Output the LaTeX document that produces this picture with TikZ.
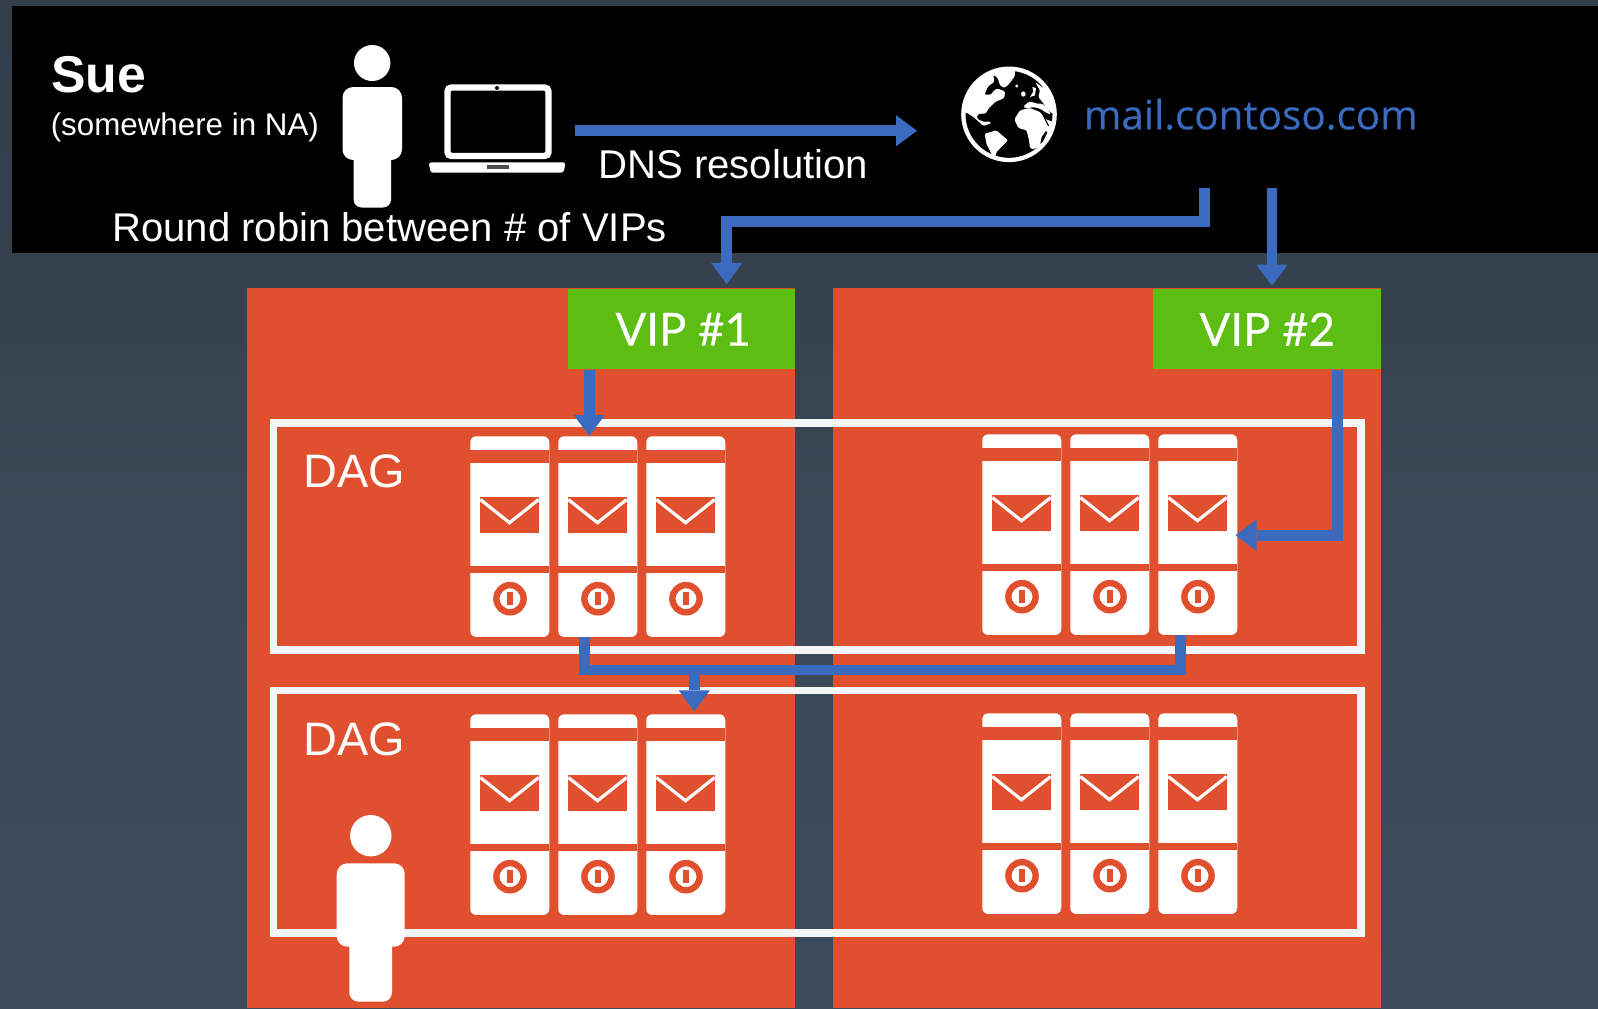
\documentclass[tikz,border=0pt]{standalone}
\usepackage{fontspec}
\setmainfont{Liberation Sans}
\newfontfamily\vipfont[FakeBold=0.25]{Lato}
\newfontfamily\mailfont[FakeBold=0.25]{Open Sans}
\usetikzlibrary{arrows.meta,calc}
\definecolor{bgtop}{HTML}{333E4B}
\definecolor{bgmida}{HTML}{35414E}
\definecolor{bgmidb}{HTML}{3A4857}
\definecolor{bgbot}{HTML}{3C4C5C}
\definecolor{panelc}{HTML}{E0502F}
\definecolor{greenc}{HTML}{5CBD13}
\definecolor{flowc}{HTML}{3A6BBF}
\definecolor{framec}{HTML}{F2F6F7}
\pgfdeclareverticalshading{pagebg}{100bp}{color(0bp)=(bgbot); color(25bp)=(bgbot); color(50bp)=(bgmidb); color(60bp)=(bgmida); color(75bp)=(bgtop); color(100bp)=(bgtop)}
\tikzset{
  txt/.style={anchor=base west,inner sep=0pt,text=white},
  panel/.style={fill=panelc,draw=none},
  vipbox/.style={fill=greenc,draw=none,inner sep=0pt,text=white,font=\vipfont\fontsize{34.2}{40}\selectfont,
    minimum height=60pt},
  dagframe/.style={draw=framec,line width=5.6pt,fill=none},
  srv/.style={fill=white,draw=none,inner sep=0pt,minimum width=59.25pt,minimum height=150.5pt,rounded corners=4.5pt},
  flow/.style={draw=flowc,line width=7.9pt,line join=miter},
  flowarrow/.style={flow,-{Triangle[length=15.75pt,width=23.4pt,sep=0pt,fill=flowc,line width=0pt]}},
}
% server: name, x of left edge, y of top edge (pixels)
\newcommand{\srvunit}[3]{%
  \node[srv,anchor=north west] (#1) at (#2,#3) {};
  \begin{scope}[shift={(#2,#3)}]
    \fill[panelc] (0,14.3) rectangle (79,26.7);
    \fill[panelc] (0,129.7) rectangle (79,137.3);
    \fill[panelc] (10.3,60.7) rectangle (68.7,97.3);
    \draw[white,line width=2.4pt,line join=miter] (10.3,63.5) -- (39.5,86.7) -- (68.7,63.5);
    \draw[panelc,line width=4.8pt] (40,162.7) circle (13.6);
    \fill[panelc] (37,156) rectangle (43,169.4);
  \end{scope}}
\begin{document}
\begin{tikzpicture}[x=0.75pt,y=-0.75pt]
\useasboundingbox (0,0) rectangle (1598,1008);
\shade[shading=pagebg] (0,0) rectangle (1598,1008);
\fill[black] (12,6) rectangle (1598,253);

% panels
\fill[panel] (247,288) rectangle (795,1008);
\fill[panel] (833,288) rectangle (1381,1008);
\node[vipbox,minimum width=170.25pt,anchor=north west] (vipa) at (568,289) {\hspace*{2.2pt}\raisebox{-0.75pt}{VIP \#1}};
\node[vipbox,minimum width=171pt,anchor=north west] (vipb) at (1153,289) {\raisebox{-0.75pt}{VIP \#2}};

% DAG frames
\draw[dagframe] (273.3,423) rectangle (1361,650);
\draw[dagframe] (273.3,690.7) rectangle (1361,933);
\node[txt,font=\fontsize{35.2}{40}\selectfont] (daga) at (303.5,487) {DAG};
\node[txt,font=\fontsize{35.2}{40}\selectfont] (dagb) at (303.5,755) {DAG};

% servers
\srvunit{sa1}{470}{436}
\srvunit{sa2}{558}{436}
\srvunit{sa3}{646}{436}
\srvunit{sb1}{982}{434}
\srvunit{sb2}{1070}{434}
\srvunit{sb3}{1158}{434}
\srvunit{sc1}{470}{714}
\srvunit{sc2}{558}{714}
\srvunit{sc3}{646}{714}
\srvunit{sd1}{982}{713}
\srvunit{sd2}{1070}{713}
\srvunit{sd3}{1158}{713}

% Sue at the top
\fill[white] (372.2,63) ellipse (18.2 and 18);
\fill[white,rounded corners=6pt] (353.6,140) rectangle (391,207.5);
\fill[white,rounded corners=8pt] (342.5,87) rectangle (402,160);
% laptop
\draw[white,line width=4.8pt,rounded corners=3pt] (447.5,87.5) rectangle (548.5,156);
\fill[white] (497,88) circle (2.6);
\fill[black] (497,88) circle (2);
\fill[white,rounded corners=2pt] (428.6,162.3) -- (565.6,162.3) -- (563.5,172.7) -- (430.7,172.7) -- cycle;
\fill[black!70] (487,165) rectangle (509,169);

% Sue in the DAG
\fill[white] (370.8,835.7) circle (20.7);
\fill[white,rounded corners=7pt] (349.3,930) rectangle (392,1001.7);
\fill[white,rounded corners=8pt] (336.7,863.3) rectangle (404.7,946.7);

% globe
\begin{scope}[shift={(955,62)},x=0.25pt,y=-0.25pt]
  \fill[black] (162,157) circle (137);
  \begin{scope}
    \clip (162,157) circle (137);
    \fill[white,rounded corners=1pt] (10,150) -- (20,70) -- (110,5) -- (178,5) -- (180,42) -- (160,68) -- (148,78) -- (135,70) -- (128,48) -- (115,38) -- (118,60) -- (100,72) -- (88,98) -- (108,98) -- (118,84) -- (128,80) -- (150,88) -- (148,108) -- (120,120) -- (100,140) -- (92,155) -- (75,155) -- (65,160) -- (68,172) -- (88,180) -- (105,178) -- (108,184) -- (85,192) -- (70,178) -- (55,165) -- (35,152) -- cycle;
    \fill[white,rounded corners=1pt] (89,215) -- (124,205) -- (159,235) -- (144,250) -- (124,270) -- (119,295) -- (104,265) -- (94,245) -- cycle;
    \fill[white,rounded corners=1pt] (178,172) -- (195,145) -- (225,138) -- (255,150) -- (272,172) -- (310,185) -- (300,250) -- (262,248) -- (235,262) -- (225,258) -- (222,235) -- (215,205) -- (190,198) -- cycle;
    \fill[black] (273,207) -- (277,212) -- (262,243) -- (256,245) -- (260,225) -- cycle;
    \draw[black,line width=0.8pt] (265,160) -- (272,175) -- (281,192);
    \fill[white,rounded corners=1pt] (205,132) -- (225,118) -- (245,125) -- (262,125) -- (275,135) -- (288,158) -- (270,150) -- (255,140) -- (235,135) -- (212,140) -- cycle;
    \fill[white,rounded corners=1pt] (240,60) -- (310,110) -- (310,165) -- (285,150) -- (262,120) -- (250,105) -- (255,85) -- cycle;
    \fill[white] (232,75) -- (243,78) -- (240,100) -- (225,105) -- (235,88) -- cycle;
    \fill[white] (205,96) ellipse (7 and 8);
    \fill[white] (185,72) circle (5);
  \end{scope}
  \draw[white,line width=3.2pt] (162,157) circle (137);
\end{scope}

% connectors
\coordinate (dnsfrom) at (575,130.7);
\coordinate (dnsto) at (917,130.7);
\draw[flowarrow] (dnsfrom) -- (dnsto);
\coordinate (rra) at (1204.5,188);
\coordinate (rrb) at (1204.5,221.5);
\coordinate (rrc) at (726.7,221.5);
\coordinate (rrd) at (726.7,284);
\draw[flowarrow] (rra) -- (rrb) -- (rrc) -- (rrd);
\coordinate (rre) at (1272,188);
\coordinate (rrf) at (1272,285.7);
\draw[flowarrow] (rre) -- (rrf);
\coordinate (vax) at (589.3,300);
\draw[flowarrow] (vax |- vipa.south) -- (vax |- sa2.north);
\coordinate (vbx) at (1337.3,535.3);
\coordinate (vby) at (1235.5,535.3);
\draw[flowarrow] (vbx |- vipb.south) -- (vbx) -- (vby);
\coordinate (ja) at (584.5,670);
\coordinate (jb) at (1180.3,670);
\coordinate (jc) at (694.3,670);
\coordinate (jd) at (694.3,711.3);
\draw[flow] (ja |- sa2.south) -- (ja) -- (jb) -- (jb |- sb3.south);
\draw[flowarrow] (jc) -- (jd);

% texts
\node[txt,font=\bfseries\fontsize{38.8}{45}\selectfont] (sue) at (51,92) {Sue};
\node[txt,font=\fontsize{23.5}{28}\selectfont] (where) at (50.5,135) {(somewhere in NA)};
\node[txt,font=\fontsize{30.05}{36}\selectfont] (rrtext) at (112,241) {Round robin between \# of VIPs};
\node[txt,font=\fontsize{30.1}{36}\selectfont] (dnstext) at (598,178) {DNS resolution};
\node[txt,text=flowc,font=\mailfont\fontsize{30.3}{36}\selectfont] (mail) at (1083.5,129.3) {mail.contoso.com};
\end{tikzpicture}
\end{document}
